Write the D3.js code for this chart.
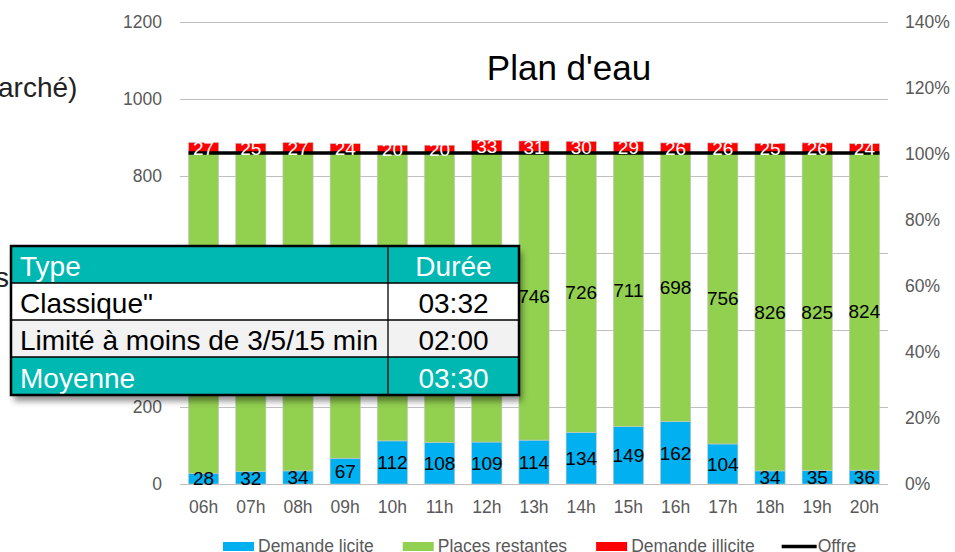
<!DOCTYPE html>
<html>
<head>
<meta charset="utf-8">
<script src="https://cdn.jsdelivr.net/npm/d3@7"></script>
<style>
  html, body { margin: 0; padding: 0; background: #fff; }
  svg { display: block; font-family: "Liberation Sans", Arial, Helvetica, sans-serif; }
</style>
</head>
<body>
<svg id="chart" width="955" height="552"></svg>
<script>
// Hourly occupancy of the "Plan d'eau" car park
const hours = ["06h","07h","08h","09h","10h","11h","12h","13h","14h","15h","16h","17h","18h","19h","20h"];
const demandeLicite   = [28, 32, 34, 67, 112, 108, 109, 114, 134, 149, 162, 104, 34, 35, 36];
const placesRestantes = [832, 828, 826, 793, 748, 752, 751, 746, 726, 711, 698, 756, 826, 825, 824];
const demandeIllicite = [27, 25, 27, 24, 20, 20, 33, 31, 30, 29, 26, 26, 25, 26, 24];
const offre           = [860, 860, 860, 860, 860, 860, 860, 860, 860, 860, 860, 860, 860, 860, 860];

const leftTicks  = [0, 200, 400, 600, 800, 1000, 1200];
const rightTicks = [0, 0.2, 0.4, 0.6, 0.8, 1.0, 1.2, 1.4];

// Parking duration summary table
const tableHeader = ["Type", "Durée"];
const tableRows = [
  ["Classique\"", "03:32"],
  ["Limité à moins de 3/5/15 min", "02:00"],
  ["Moyenne", "03:30"]
];

const seriesNames  = ["Demande licite", "Places restantes", "Demande illicite", "Offre"];
const seriesColors = ["#00b0f0", "#92d050", "#ff0000", "#000000"];

const svg = d3.select("#chart");
const plot = { left: 180, right: 888, top: 22, bottom: 484 };

const x = d3.scaleBand().domain(hours).range([plot.left, plot.right])
  .paddingInner(0.36).paddingOuter(0.18);
const y = d3.scaleLinear().domain([0, 1200]).range([plot.bottom, plot.top]);
const y2 = d3.scaleLinear().domain([0, 1.4]).range([plot.bottom, plot.top]);

const tickColor = "#595959";

// Gridlines
svg.append("g").selectAll("line").data(leftTicks).join("line")
  .attr("x1", plot.left).attr("x2", plot.right)
  .attr("y1", d => y(d) + 0.5).attr("y2", d => y(d) + 0.5)
  .attr("stroke", "#bfbfbf").attr("stroke-width", 1);

// Left axis
const leftAxis = svg.append("g").attr("transform", `translate(${plot.left},0)`)
  .call(d3.axisLeft(y).tickValues(leftTicks).tickSize(0).tickPadding(18).tickFormat(d3.format("d")));
leftAxis.select(".domain").remove();
leftAxis.selectAll("text").attr("font-size", 17.5).attr("fill", tickColor)
  .attr("font-family", "Liberation Sans, Arial, sans-serif");

// Right axis
const rightAxis = svg.append("g").attr("transform", `translate(${plot.right},0)`)
  .call(d3.axisRight(y2).tickValues(rightTicks).tickSize(0).tickPadding(17)
    .tickFormat(d3.format(".0%")));
rightAxis.select(".domain").remove();
rightAxis.selectAll("text").attr("font-size", 17.5).attr("fill", tickColor)
  .attr("font-family", "Liberation Sans, Arial, sans-serif");

// Bottom axis
const bottomAxis = svg.append("g").attr("transform", `translate(0,${plot.bottom})`)
  .call(d3.axisBottom(x).tickSize(0).tickPadding(17));
bottomAxis.select(".domain").remove();
bottomAxis.selectAll("text").attr("font-size", 17.5).attr("fill", tickColor)
  .attr("font-family", "Liberation Sans, Arial, sans-serif");

// Stacked bars
const rows = hours.map((h, i) => ({
  hour: h, licite: demandeLicite[i], restantes: placesRestantes[i], illicite: demandeIllicite[i]
}));
const keys = ["licite", "restantes", "illicite"];
const stacked = d3.stack().keys(keys)(rows);

const barG = svg.append("g");
stacked.forEach((layer, li) => {
  barG.append("g").selectAll("rect").data(layer).join("rect")
    .attr("x", d => x(d.data.hour))
    .attr("width", x.bandwidth())
    .attr("y", d => y(d[1]))
    .attr("height", d => y(d[0]) - y(d[1]))
    .attr("fill", seriesColors[li])
    .attr("stroke", "#c8c8c8").attr("stroke-width", 0.6);
});

// Offre line
const offreLine = d3.line()
  .x((d, i) => i === 0 ? x(hours[i]) : i === hours.length - 1 ? x(hours[i]) + x.bandwidth() : x(hours[i]) + x.bandwidth() / 2)
  .y(d => y(d));
svg.append("path").datum(offre).attr("d", offreLine)
  .attr("fill", "none").attr("stroke", "#000").attr("stroke-width", 3.5);

// Data labels
const labelColors = ["#000", "#000", "#fff"];
stacked.forEach((layer, li) => {
  svg.append("g").selectAll("text").data(layer).join("text")
    .attr("x", d => x(d.data.hour) + x.bandwidth() / 2)
    .attr("y", d => y((d[0] + d[1]) / 2))
    .attr("dy", "0.36em")
    .attr("text-anchor", "middle")
    .attr("font-size", 19)
    .attr("fill", labelColors[li])
    .text(d => d.data[keys[li]]);
});

// Title
svg.append("text").attr("x", 569).attr("y", 80).attr("text-anchor", "middle")
  .attr("font-size", 35).attr("fill", "#000").text("Plan d'eau");

// Neighbouring panel text clipped at the left edge
svg.append("text").attr("x", -2).attr("y", 97).attr("font-size", 28).attr("fill", "#222").text("arché)");
svg.append("text").attr("x", -5).attr("y", 287).attr("font-size", 28).attr("fill", "#222").text("se");

// Summary table with drop shadow
const defs = svg.append("defs");
const f = defs.append("filter").attr("id", "shadow").attr("x", "-10%").attr("y", "-10%")
  .attr("width", "130%").attr("height", "140%");
f.append("feDropShadow").attr("dx", 3).attr("dy", 6).attr("stdDeviation", 3)
  .attr("flood-color", "#000").attr("flood-opacity", 0.45);

const tbl = { left: 11, right: 519, split: 388, rowsY: [246, 283, 320, 357, 395] };
const tg = svg.append("g");
tg.append("rect").attr("x", tbl.left).attr("y", tbl.rowsY[0])
  .attr("width", tbl.right - tbl.left).attr("height", tbl.rowsY[4] - tbl.rowsY[0])
  .attr("fill", "#fff").attr("filter", "url(#shadow)");

const teal = "#00b8b2";
const allRows = [tableHeader, ...tableRows];
const rowFill = [teal, "#ffffff", "#f2f2f2", teal];
const rowText = ["#fff", "#000", "#000", "#fff"];
allRows.forEach((r, i) => {
  const y0 = tbl.rowsY[i], y1 = tbl.rowsY[i + 1];
  tg.append("rect").attr("x", tbl.left).attr("y", y0)
    .attr("width", tbl.right - tbl.left).attr("height", y1 - y0).attr("fill", rowFill[i]);
  tg.append("text").attr("x", 20).attr("y", y1 - 7).attr("font-size", 28)
    .attr("fill", rowText[i]).text(r[0]);
  tg.append("text").attr("x", (tbl.split + tbl.right) / 2).attr("y", y1 - 7)
    .attr("text-anchor", "middle").attr("font-size", 28)
    .attr("fill", rowText[i]).text(r[1]);
});
// inner grid
tbl.rowsY.slice(1, 4).forEach(yy => {
  tg.append("line").attr("x1", tbl.left).attr("x2", tbl.right).attr("y1", yy).attr("y2", yy)
    .attr("stroke", "#000").attr("stroke-width", 1.3);
});
tg.append("line").attr("x1", tbl.split).attr("x2", tbl.split)
  .attr("y1", tbl.rowsY[0]).attr("y2", tbl.rowsY[4]).attr("stroke", "#000").attr("stroke-width", 1.3);
tg.append("rect").attr("x", tbl.left).attr("y", tbl.rowsY[0])
  .attr("width", tbl.right - tbl.left).attr("height", tbl.rowsY[4] - tbl.rowsY[0])
  .attr("fill", "none").attr("stroke", "#000").attr("stroke-width", 2.5);

// Legend
const lg = svg.append("g");
let lx = 223;
seriesNames.forEach((name, i) => {
  if (i < 3) {
    lg.append("rect").attr("x", lx).attr("y", 542).attr("width", 31).attr("height", 9)
      .attr("fill", seriesColors[i]);
  } else {
    lg.append("line").attr("x1", lx - 2).attr("x2", lx + 33).attr("y1", 546.5).attr("y2", 546.5)
      .attr("stroke", "#000").attr("stroke-width", 3.5);
  }
  const t = lg.append("text").attr("x", lx + (i < 3 ? 35 : 34)).attr("y", 552)
    .attr("font-size", 17.5).attr("fill", tickColor).text(name);
  lx = lx + (i < 3 ? 35 : 34) + t.node().getComputedTextLength() + 29;
});
</script>
</body>
</html>
